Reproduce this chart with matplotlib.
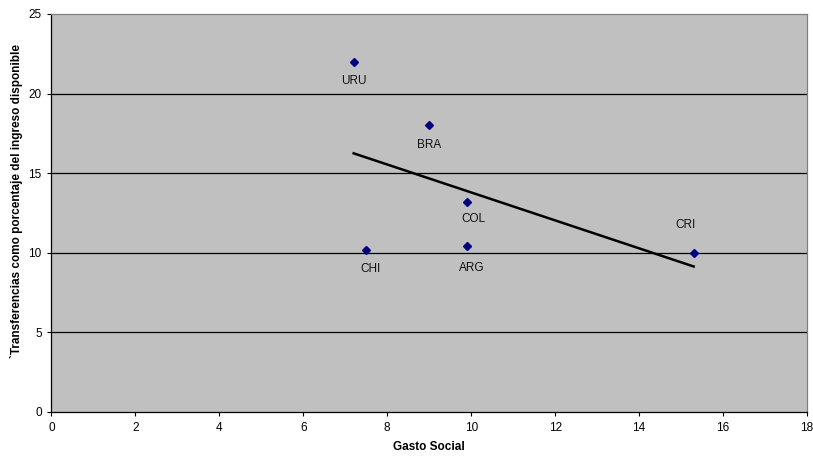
import numpy as np
import matplotlib.pyplot as plt

plt.rcParams['font.family'] = ['Liberation Sans', 'DejaVu Sans']

countries = ["URU", "BRA", "COL", "CHI", "ARG", "CRI"]
gasto = np.array([7.2, 9.0, 9.9, 7.5, 9.9, 15.3])
transf = np.array([22.0, 18.0, 13.2, 10.2, 10.4, 10.0])
# label offsets in pixels (dx, dy)
offsets = {"URU": (0, -19), "BRA": (0, -20), "COL": (6, -17),
           "CHI": (4, -19), "ARG": (5, -22), "CRI": (-8, 28)}

fig = plt.figure(figsize=(8.13, 4.59), dpi=100)
ax = fig.add_axes([0.0633, 0.1024, 0.9293, 0.8671])
ax.set_facecolor("#c0c0c0")

for yv in [5, 10, 15, 20]:
    ax.axhline(yv, color="black", lw=0.9, zorder=1)

ax.plot(gasto, transf, "D", color="#000080", ms=3.6, zorder=3)

coef = np.polyfit(gasto, transf, 1)
xt = np.array([gasto.min(), gasto.max()])
ax.plot(xt, np.polyval(coef, xt), color="black", lw=1.8, zorder=2)

for c, x, y in zip(countries, gasto, transf):
    dx, dy = offsets[c]
    ax.annotate(c, (x, y), xytext=(dx * 0.72, dy * 0.72), textcoords="offset points",
                ha="center", va="center", fontsize=8.5, color="#111111")

ax.set_xlim(0, 18)
ax.set_ylim(0, 25)
ax.set_xticks(np.arange(0, 19, 2))
ax.set_yticks(np.arange(0, 26, 5))
ax.tick_params(labelsize=8.5, length=3, width=0.8, direction="out", pad=4)
ax.set_xlabel("Gasto Social", fontsize=8.5, fontweight="bold", labelpad=5)
ax.set_ylabel("`Transferencias como porcentaje del ingreso disponible", fontsize=8.5,
              fontweight="bold", labelpad=4)
ax.yaxis.label.set_y(0.53)

for s in ["top", "right"]:
    ax.spines[s].set_color("#808080")
for s in ["left", "bottom"]:
    ax.spines[s].set_color("black")
for s in ax.spines.values():
    s.set_linewidth(0.9)

fig.savefig("out.png", dpi=100)
